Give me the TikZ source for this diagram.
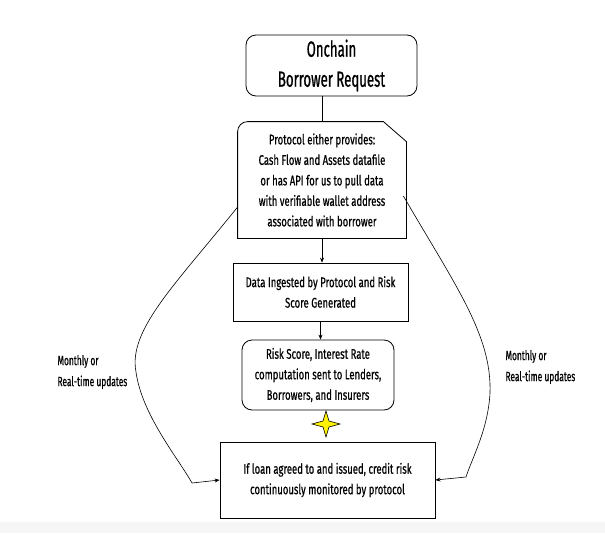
\documentclass[tikz,border=0pt]{standalone}
\usepackage{fontspec}
\setmainfont{Fira Sans}[FakeStretch=0.68, FakeBold=0.6]
\newfontfamily\titlefont{Fira Sans}[FakeStretch=0.6, FakeBold=0.8]
\newfontfamily\notefont{Fira Sans}[FakeStretch=0.62, FakeBold=0.6]
\usetikzlibrary{arrows.meta}

\tikzset{
  box/.style={draw, line width=0.8pt, align=center, inner sep=0pt,
    font=\fontsize{14}{20.5}\selectfont},
  roundbox/.style={box, rounded corners=10pt},
  flow/.style={-{Stealth[length=5pt,width=4pt]}, line width=0.6pt},
  note/.style={align=left, anchor=west, font=\notefont\fontsize{13.5}{21}\selectfont}
}

\begin{document}
\begin{tikzpicture}[x=1pt,y=1pt]
    \useasboundingbox (0,0) rectangle (605,-533);
    \fill[gray!7] (0,-522) rectangle (605,-533);

    % boxes
    \node [roundbox, minimum width=171pt, minimum height=61pt,
      font=\titlefont\fontsize{22}{30}\selectfont] (title) at (331.5,-65.5) {Onchain\\Borrower Request};
    \node [box, draw=none, minimum width=168pt, minimum height=116pt] (prot) at (322,-180)
      {Protocol either provides:\\Cash Flow and Assets datafile\\or has API for us to pull data\\with verifiable wallet address\\associated with borrower};
    \draw [line width=0.8pt] (prot.south west) -- ([yshift=-10pt]prot.north west)
      arc [start angle=180, end angle=90, radius=10pt]
      -- ([xshift=-23pt]prot.north east) -- ([yshift=-20pt]prot.north east)
      -- (prot.south east) -- cycle;
    \node [box, minimum width=175pt, minimum height=58pt] (ingest) at (320.5,-292)
      {Data Ingested by Protocol and Risk\\Score Generated};
    \node [roundbox, minimum width=152pt, minimum height=70pt] (rate) at (318,-375)
      {Risk Score, Interest Rate\\computation sent to Lenders,\\Borrowers, and Insurers};
    \node [box, minimum width=215pt, minimum height=76pt] (monitor) at (327.5,-480)
      {If loan agreed to and issued, credit risk\\continuously monitored by protocol};

    % sparkle
    \coordinate (spark) at (326,-424);
    \draw [fill=yellow, line width=0.6pt] ([xshift=-14pt]spark) -- ([shift={(-3pt,3pt)}]spark)
      -- ([yshift=13pt]spark) -- ([shift={(3pt,3pt)}]spark) -- ([xshift=14pt]spark)
      -- ([shift={(3pt,-3pt)}]spark) -- ([yshift=-13pt]spark) -- ([shift={(-3pt,-3pt)}]spark) -- cycle;

    % straight connectors
    \draw [line width=0.6pt] (title.south -| prot.north) -- (prot.north);
    \draw [flow] (prot.south) -- (prot.south |- ingest.north);
    \draw [flow] (ingest.south) -- (ingest.south |- rate.north);

    % update loops
    \coordinate (lbend) at (192,-483);
    \coordinate (rbend) at (466,-477);
    \draw [line width=0.6pt] ([yshift=-27pt]prot.west) .. controls (175,-285) and (128,-330) .. (136,-372)
      .. controls (142,-415) and (178,-458) .. (lbend);
    \draw [flow] (lbend) -- (monitor.west);
    \draw [line width=0.6pt] ([shift={(-3pt,-16pt)}]prot.east) .. controls (455,-285) and (492,-335) .. (490,-393)
      .. controls (488,-430) and (472,-458) .. (rbend);
    \draw [flow] (rbend) -- (monitor.east);

    \node [note] (lnote) at (54,-372) {Monthly or\\Real-time updates};
    \node [note] (rnote) at (502,-367) {Monthly or\\Real-time updates};
\end{tikzpicture}
\end{document}
